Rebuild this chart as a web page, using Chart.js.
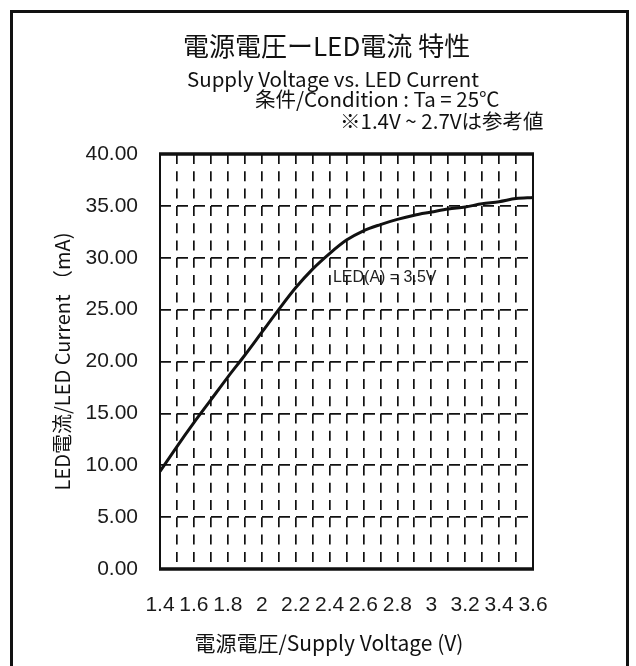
<!DOCTYPE html>
<html>
<head>
<meta charset="utf-8">
<script src="https://cdn.jsdelivr.net/npm/chart.js@4.4.1/dist/chart.umd.min.js"></script>
<style>
  html, body { margin: 0; padding: 0; background: #fff; }
  body {
    width: 636px; height: 666px; position: relative; overflow: hidden;
    font-family: "Noto Sans CJK JP", sans-serif; color: #111;
  }
  #frame {
    position: absolute; left: 10px; top: 10px; width: 613px; height: 700px;
    border: 3px solid #111; border-bottom: none;
  }
  #chart { position: absolute; left: 0; top: 0; }
  .hd { position: absolute; white-space: nowrap; }
  #title { left: 183px; top: 31px; font-size: 26px; line-height: 28px; }
  #sub1 { left: 187px; top: 66px; font-size: 20.5px; line-height: 24px; }
  #sub2 { left: 255px; top: 86px; font-size: 20.5px; line-height: 24px; }
  #sub3 { left: 340px; top: 108px; font-size: 20.5px; line-height: 24px; }
  #xtitle { left: 0; width: 658px; text-align: center; top: 629px; font-size: 21px; line-height: 26px; }
</style>
</head>
<body>
<canvas id="chart" width="636" height="666"></canvas>
<div id="frame"></div>
<div class="hd" id="title">電源電圧ーLED電流 特性</div>
<div class="hd" id="sub1">Supply Voltage vs. LED Current</div>
<div class="hd" id="sub2">条件/Condition : Ta = 25℃</div>
<div class="hd" id="sub3">※1.4V ~ 2.7Vは参考値</div>
<div class="hd" id="xtitle">電源電圧/Supply Voltage (V)</div>
<script>
// supply voltage (V) and LED current (mA)
const voltage = [1.4, 1.5, 1.6, 1.7, 1.8, 1.9, 2.0, 2.1, 2.2, 2.3, 2.4, 2.5,
                 2.6, 2.7, 2.8, 2.9, 3.0, 3.1, 3.2, 3.3, 3.4, 3.5, 3.6];
const ledCurrent = [9.4, 11.8, 14.1, 16.3, 18.5, 20.6, 22.8, 25.0, 27.1, 28.9, 30.4, 31.7,
                    32.6, 33.2, 33.7, 34.1, 34.4, 34.7, 34.9, 35.2, 35.4, 35.7, 35.8];

const xMin = 1.4, xMax = 3.6, xStep = 0.1;
const yMin = 0, yMax = 40, yStep = 5;
const curveLabel = "LED(A) = 3.5V";

const tickFont = { family: "'Liberation Sans Narrow', 'Arial Narrow', sans-serif", size: 21 };

// thick frame round the plot area
const plotFrame = {
  id: "plotFrame",
  beforeDatasetsDraw(chart) {
    const { ctx, chartArea: a } = chart;
    ctx.save();
    ctx.strokeStyle = "#111";
    ctx.lineWidth = 2;
    ctx.beginPath();
    ctx.moveTo(a.left, a.top); ctx.lineTo(a.left, a.bottom);
    ctx.moveTo(a.right, a.top); ctx.lineTo(a.right, a.bottom);
    ctx.stroke();
    ctx.lineWidth = 3.5;
    ctx.beginPath();
    ctx.moveTo(a.left - 1, a.top); ctx.lineTo(a.right + 1, a.top);
    ctx.moveTo(a.left - 1, a.bottom); ctx.lineTo(a.right + 1, a.bottom);
    ctx.stroke();
    ctx.restore();
  }
};

// curve label inside the plot
const curveNote = {
  id: "curveNote",
  afterDatasetsDraw(chart) {
    const { ctx, scales } = chart;
    ctx.save();
    ctx.font = "16px 'Liberation Sans Narrow', 'Arial Narrow', sans-serif";
    ctx.fillStyle = "#222";
    ctx.textBaseline = "middle";
    ctx.fillText(curveLabel, scales.x.getPixelForValue(2.42), scales.y.getPixelForValue(28.1));
    ctx.restore();
  }
};

new Chart(document.getElementById("chart"), {
  type: "line",
  data: {
    datasets: [{
      data: voltage.map((v, i) => ({ x: v, y: ledCurrent[i] })),
      borderColor: "#111",
      borderWidth: 3,
      pointRadius: 0,
      cubicInterpolationMode: "monotone",
      fill: false
    }]
  },
  options: {
    responsive: false,
    animation: false,
    devicePixelRatio: 1,
    layout: { padding: { left: 0, top: 154, right: 103, bottom: 37 } },
    plugins: { legend: { display: false }, tooltip: { enabled: false } },
    scales: {
      x: {
        type: "linear",
        min: xMin, max: xMax,
        afterFit(scale) { scale.height = 60; },
        grid: { color: "#111", lineWidth: 1.7, drawTicks: false },
        border: { display: false, dash: [10, 7.3] },
        ticks: {
          stepSize: xStep,
          autoSkip: false,
          maxRotation: 0,
          padding: 24,
          color: "#1a1a1a",
          font: tickFont,
          callback: (value) => {
            const n = Math.round(value * 10);
            return n % 2 === 0 ? String(n / 10) : "";
          }
        }
      },
      y: {
        min: yMin, max: yMax,
        afterFit(scale) { scale.width = 160; },
        grid: { color: "#111", lineWidth: 1.7, drawTicks: false },
        border: { display: false, dash: [11, 6] },
        ticks: {
          stepSize: yStep,
          padding: 22,
          color: "#1a1a1a",
          font: tickFont,
          callback: (value) => value.toFixed(2)
        },
        title: {
          display: true,
          text: "LED電流/LED Current （mA)",
          color: "#111",
          font: { family: "'Noto Sans CJK JP', sans-serif", size: 20 },
          padding: { top: 50, bottom: 0 }
        }
      }
    }
  },
  plugins: [plotFrame, curveNote]
});
</script>
</body>
</html>
